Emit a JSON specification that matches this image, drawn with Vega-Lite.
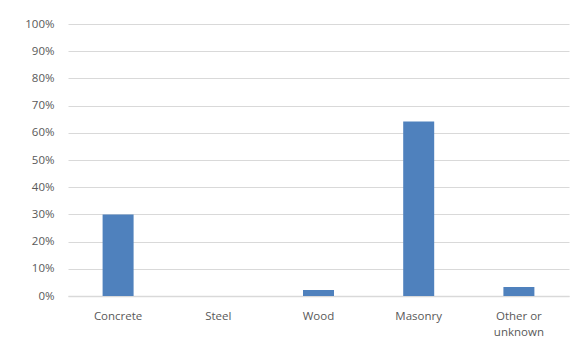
{
  "$schema": "https://vega.github.io/schema/vega-lite/v6.json",
  "autosize": "none",
  "width": 501,
  "height": 272,
  "padding": {"left": 68, "top": 24, "right": 9, "bottom": 52},
  "background": "white",
  "config": {
    "view": {"stroke": null},
    "font": "Open Sans",
    "axis": {"labelFont": "Open Sans", "labelFontSize": 11.5, "labelColor": "#595959"}
  },
  "data": {
    "values": [
      {"material": "Concrete", "share": 0.300},
      {"material": "Steel", "share": 0.0},
      {"material": "Wood", "share": 0.022},
      {"material": "Masonry", "share": 0.642},
      {"material": "Other or unknown", "share": 0.033}
    ]
  },
  "mark": {"type": "bar", "color": "#4f81bd", "size": 31},
  "encoding": {
    "x": {
      "field": "material",
      "type": "nominal",
      "sort": null,
      "scale": {"paddingInner": 0, "paddingOuter": 0},
      "axis": {
        "title": null,
        "labelAngle": 0,
        "ticks": false,
        "domainColor": "#d9d9d9",
        "domainWidth": 1.5,
        "labelPadding": 14,
        "labelLineHeight": 16.5,
        "labelExpr": "datum.label == 'Other or unknown' ? ['Other or', 'unknown'] : datum.label"
      }
    },
    "y": {
      "field": "share",
      "type": "quantitative",
      "scale": {"domain": [0, 1]},
      "axis": {
        "title": null,
        "format": ".0%",
        "values": [0, 0.1, 0.2, 0.3, 0.4, 0.5, 0.6, 0.7, 0.8, 0.9, 1.0],
        "domain": false,
        "ticks": false,
        "labelPadding": 14,
        "gridColor": "#d9d9d9",
        "gridWidth": 1
      }
    }
  }
}
